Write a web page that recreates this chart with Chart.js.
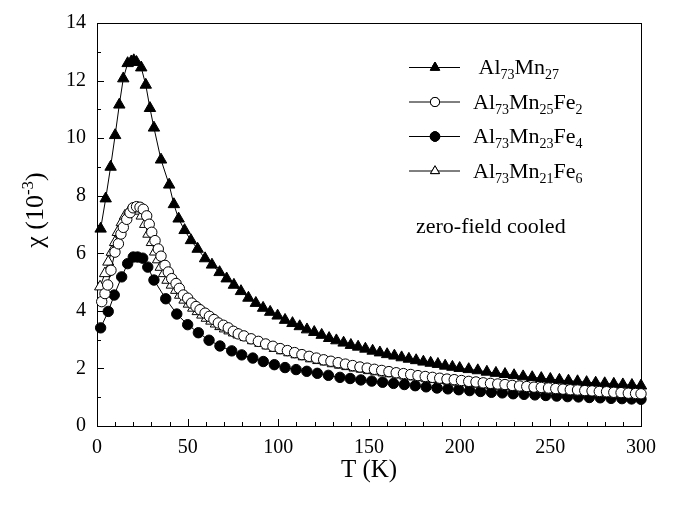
<!DOCTYPE html>
<html><head><meta charset="utf-8">
<script src="https://cdn.jsdelivr.net/npm/chart.js@4.4.1/dist/chart.umd.min.js"></script>
<style>html,body{margin:0;padding:0;background:#fff}#wrap{width:676px;height:505px}</style>
</head><body><div id="wrap"><canvas id="c" width="676" height="505"></canvas></div>
<script>
// ---------------- DATA ----------------
const seriesLabels = ['Al73Mn27', 'Al73Mn25Fe2', 'Al73Mn23Fe4', 'Al73Mn21Fe6'];
// rich legend text: [text, isSubscript]
const legendParts = [
  [[' Al',0],['73',1],['Mn',0],['27',1]],
  [['Al',0],['73',1],['Mn',0],['25',1],['Fe',0],['2',1]],
  [['Al',0],['73',1],['Mn',0],['23',1],['Fe',0],['4',1]],
  [['Al',0],['73',1],['Mn',0],['21',1],['Fe',0],['6',1]]
];
const xTickValues = [0, 50, 100, 150, 200, 250, 300];
const yTickValues = [0, 2, 4, 6, 8, 10, 12, 14];
const xTitle = 'T (K)';
const yTitleParts = [['χ (10',0],['-3',2],[')',0]];
const annotationText = 'zero-field cooled';

// Al73Mn27 (filled triangles)
const T_Mn27 = [2, 4.8, 7.5, 10, 12.3, 14.5, 16.9, 18.9, 20.3, 21.8, 24.4, 26.9, 29.2, 31.4, 35.3, 39.8, 42.4, 45, 48.3, 51.8, 55.5, 59.6, 63.4, 67.6, 71.5, 75.5, 79.4, 83.5, 87.6, 91.6, 95.5, 99.6, 103.7, 107.8, 111.8, 115.8, 119.8, 123.9, 128, 132, 136, 140, 144, 148, 152, 156, 160, 164, 168, 172, 176, 180, 184, 188, 192, 196, 200, 205, 210, 215, 220, 225, 230, 235, 240, 245, 250, 255, 260, 265, 270, 275, 280, 285, 290, 295, 300];
const chi_Mn27 = [6.85, 7.9, 9.0, 10.1, 11.16, 12.07, 12.6, 12.66, 12.7, 12.64, 12.45, 11.85, 11.04, 10.36, 9.25, 8.38, 7.7, 7.2, 6.8, 6.45, 6.15, 5.82, 5.6, 5.34, 5.12, 4.9, 4.68, 4.45, 4.27, 4.1, 3.96, 3.83, 3.68, 3.57, 3.46, 3.35, 3.26, 3.16, 3.05, 2.97, 2.89, 2.81, 2.75, 2.68, 2.61, 2.55, 2.49, 2.44, 2.38, 2.33, 2.28, 2.23, 2.19, 2.15, 2.09, 2.05, 2.01, 1.97, 1.93, 1.88, 1.84, 1.8, 1.76, 1.72, 1.69, 1.66, 1.63, 1.6, 1.57, 1.55, 1.52, 1.5, 1.48, 1.46, 1.44, 1.42, 1.4];

// Al73Mn25Fe2 (open circles)
const T_Fe2 = [2.6, 4.4, 5.9, 7.7, 9.9, 11.8, 13.2, 14.5, 16.4, 18.2, 19.9, 21.8, 23.7, 25.5, 27.4, 28.8, 30.2, 32, 33.8, 35.3, 37.5, 39.3, 41.2, 43.6, 45.4, 47.6, 50, 52.2, 54.6, 56.8, 59.6, 62, 64.5, 66.9, 69.7, 72.4, 75.2, 77.9, 81, 85, 89, 93, 97, 101, 105, 109, 113, 117, 121, 125, 129, 133, 137, 141, 145, 149, 153, 157, 161, 165, 169, 173, 177, 181, 185, 189, 193, 197, 201, 205, 209, 213, 217, 221, 225, 229, 233, 237, 241, 245, 249, 253, 257, 261, 265, 269, 273, 277, 281, 285, 289, 293, 297, 300];
const chi_Fe2 = [4.32, 4.6, 4.9, 5.41, 6.04, 6.33, 6.67, 6.9, 7.18, 7.41, 7.58, 7.62, 7.6, 7.53, 7.3, 7.01, 6.73, 6.44, 6.15, 5.9, 5.58, 5.35, 5.12, 4.95, 4.78, 4.55, 4.44, 4.27, 4.15, 4.04, 3.92, 3.81, 3.7, 3.58, 3.5, 3.41, 3.29, 3.2, 3.13, 3.03, 2.94, 2.85, 2.77, 2.69, 2.62, 2.55, 2.48, 2.42, 2.36, 2.3, 2.25, 2.2, 2.15, 2.1, 2.05, 2.01, 1.97, 1.93, 1.89, 1.85, 1.82, 1.79, 1.75, 1.72, 1.69, 1.66, 1.63, 1.61, 1.58, 1.55, 1.53, 1.5, 1.48, 1.46, 1.44, 1.41, 1.39, 1.37, 1.35, 1.34, 1.32, 1.3, 1.28, 1.26, 1.25, 1.23, 1.22, 1.2, 1.19, 1.17, 1.16, 1.14, 1.13, 1.12];

// Al73Mn23Fe4 (filled circles)
const T_Fe4 = [2, 6.2, 9.5, 13.6, 16.9, 20, 22.4, 25.2, 28, 31.4, 37.9, 44, 50, 55.9, 61.8, 67.8, 74.3, 79.8, 85.9, 91.7, 97.8, 103.7, 109.8, 115.7, 121.5, 127.6, 134, 139.6, 145.5, 151.5, 157.5, 163.5, 169.5, 175.5, 181.5, 187.5, 193.5, 199.5, 205.5, 211.5, 217.5, 223.5, 229.5, 235.5, 241.5, 247.5, 253.5, 259.5, 265.5, 271.5, 277.5, 283.5, 289.5, 294.8, 300];
const chi_Fe4 = [3.41, 3.98, 4.55, 5.18, 5.64, 5.87, 5.87, 5.83, 5.52, 5.07, 4.42, 3.89, 3.52, 3.24, 2.98, 2.78, 2.61, 2.47, 2.36, 2.24, 2.13, 2.03, 1.96, 1.9, 1.83, 1.76, 1.69, 1.65, 1.6, 1.56, 1.52, 1.48, 1.44, 1.4, 1.36, 1.32, 1.29, 1.26, 1.23, 1.2, 1.17, 1.15, 1.12, 1.1, 1.08, 1.06, 1.04, 1.02, 1.01, 0.99, 0.98, 0.96, 0.95, 0.94, 0.93];

// Al73Mn21Fe6 (open triangles)
const T_Fe6 = [1.7, 4.4, 6.2, 8.1, 9.9, 11.4, 13.6, 15.4, 17.8, 20, 22.2, 24.6, 26.5, 28.3, 30.2, 32, 33.6, 35.1, 36.9, 38.8, 41.2, 43.6, 45.8, 48.2, 50.6, 53, 55.5, 58, 60.5, 63, 65.5, 68, 70.5, 73, 75.5, 78, 82, 86, 90, 94, 98, 102, 106, 110, 114, 118, 122, 126, 130, 134, 138, 142, 146, 150, 154, 158, 162, 166, 170, 174, 178, 182, 186, 190, 194, 198, 202, 206, 210, 214, 218, 222, 226, 230, 234, 238, 242, 246, 250, 254, 258, 262, 266, 270, 274, 278, 282, 286, 290, 294, 298];
const chi_Fe6 = [4.84, 5.3, 5.7, 6.04, 6.38, 6.73, 7.07, 7.3, 7.47, 7.5, 7.47, 7.3, 7.01, 6.67, 6.38, 6.05, 5.78, 5.52, 5.3, 5.07, 4.9, 4.72, 4.55, 4.38, 4.24, 4.1, 3.98, 3.86, 3.75, 3.65, 3.55, 3.46, 3.38, 3.31, 3.24, 3.17, 3.08, 2.97, 2.88, 2.79, 2.7, 2.62, 2.55, 2.48, 2.41, 2.34, 2.28, 2.23, 2.17, 2.12, 2.07, 2.02, 1.98, 1.93, 1.89, 1.85, 1.82, 1.78, 1.74, 1.71, 1.68, 1.65, 1.62, 1.59, 1.56, 1.53, 1.51, 1.48, 1.46, 1.43, 1.41, 1.39, 1.37, 1.35, 1.33, 1.31, 1.29, 1.27, 1.25, 1.23, 1.22, 1.2, 1.18, 1.17, 1.15, 1.14, 1.12, 1.11, 1.1, 1.08, 1.07];

// ---------------- STYLE ----------------
const FONT = '"Liberation Serif", "Times New Roman", serif';
const toXY = (xs, ys) => xs.map((v, i) => ({x: v, y: ys[i]}));
const styles = [
  {pointStyle: 'triangle', radius: 6.6, fill: '#000', legendRadius: 5.4},
  {pointStyle: 'circle', radius: 5.2, fill: '#fff', legendRadius: 4.6},
  {pointStyle: 'circle', radius: 5.2, fill: '#000', legendRadius: 4.8},
  {pointStyle: 'triangle', radius: 6.4, fill: '#fff', legendRadius: 5.2}
];
const dataSets = [[T_Mn27, chi_Mn27], [T_Fe2, chi_Fe2], [T_Fe4, chi_Fe4], [T_Fe6, chi_Fe6]];
const drawOrder = [0, 2, 3, 1];

function drawRich(ctx, parts, x, y, main, small) {
  let cx = x;
  for (const [t, kind] of parts) {
    if (kind) {
      ctx.font = small + 'px ' + FONT;
      ctx.fillText(t, cx, y + (kind === 1 ? 5 : -10));
    } else {
      ctx.font = main + 'px ' + FONT;
      ctx.fillText(t, cx, y);
    }
    cx += ctx.measureText(t).width;
  }
  return cx - x;
}
function richWidth(ctx, parts, main, small) {
  let w = 0;
  for (const [t, kind] of parts) {
    ctx.font = (kind ? small : main) + 'px ' + FONT;
    w += ctx.measureText(t).width;
  }
  return w;
}

const decor = {
  id: 'decor',
  beforeDatasetsDraw(chart) {
    const {ctx, chartArea: a, scales: {x, y}} = chart;
    ctx.save();
    ctx.strokeStyle = '#000';
    ctx.lineWidth = 1;
    ctx.strokeRect(Math.round(a.left) + 0.5, Math.round(a.top) + 0.5,
                   Math.round(a.right - a.left), Math.round(a.bottom - a.top));
    ctx.beginPath();
    for (let v = x.min; v <= x.max; v += 10) {
      const px = Math.round(x.getPixelForValue(v)) + 0.5;
      const len = xTickValues.includes(v) ? 7 : 4;
      ctx.moveTo(px, a.bottom); ctx.lineTo(px, a.bottom - len);
    }
    for (let v = y.min; v <= y.max; v += 1) {
      const py = Math.round(y.getPixelForValue(v)) + 0.5;
      const len = yTickValues.includes(v) ? 7 : 4;
      ctx.moveTo(a.left, py); ctx.lineTo(a.left + len, py);
    }
    ctx.stroke();
    ctx.restore();
  },
  afterDraw(chart) {
    const {ctx, chartArea: a} = chart;
    ctx.save();
    ctx.fillStyle = '#000';
    ctx.textBaseline = 'alphabetic';
    ctx.textAlign = 'left';
    // legend
    const rowsY = [67, 101.5, 136, 170.5];
    for (let i = 0; i < 4; i++) {
      const ly = rowsY[i];
      ctx.strokeStyle = '#000'; ctx.lineWidth = 1;
      ctx.beginPath(); ctx.moveTo(409, ly + 0.5); ctx.lineTo(460, ly + 0.5); ctx.stroke();
      const s = styles[i];
      ctx.fillStyle = s.fill;
      Chart.helpers.drawPoint(ctx, {pointStyle: s.pointStyle, radius: s.legendRadius, borderWidth: 1, rotation: 0}, 435, ly + 0.5);
      ctx.fill(); ctx.stroke();
      ctx.fillStyle = '#000';
      drawRich(ctx, legendParts[i], 473, ly + 7, 22, 14);
    }
    // annotation
    ctx.font = '22px ' + FONT;
    ctx.fillText(annotationText, 416, 233);
    // x title
    ctx.textAlign = 'center';
    ctx.font = '25px ' + FONT;
    ctx.fillText(xTitle, (a.left + a.right) / 2, 477);
    // y title
    ctx.textAlign = 'left';
    ctx.translate(43, 210);
    ctx.rotate(-Math.PI / 2);
    const w = richWidth(ctx, yTitleParts, 26, 17);
    drawRich(ctx, yTitleParts, -w / 2, 0, 26, 17);
    ctx.restore();
  }
};

const datasets = drawOrder.map((k, order) => ({
  label: seriesLabels[k],
  data: toXY(dataSets[k][0], dataSets[k][1]),
  showLine: true,
  borderColor: '#000',
  borderWidth: 1,
  pointStyle: styles[k].pointStyle,
  pointRadius: styles[k].radius,
  pointBackgroundColor: styles[k].fill,
  pointBorderColor: '#000',
  pointBorderWidth: 1,
  clip: false,
  order: 4 - order
}));

new Chart(document.getElementById('c'), {
  type: 'scatter',
  data: {datasets},
  options: {
    responsive: false,
    devicePixelRatio: 1,
    animation: false,
    layout: {padding: {top: 18, right: 35, left: 0, bottom: 0}},
    plugins: {legend: {display: false}, tooltip: {enabled: false}},
    scales: {
      x: {
        type: 'linear', min: 0, max: 300,
        afterBuildTicks: s => { s.ticks = xTickValues.map(v => ({value: v})); },
        ticks: {color: '#000', font: {family: FONT, size: 20}, padding: 10, maxRotation: 0, autoSkip: false},
        grid: {display: false, drawTicks: false},
        border: {display: false},
        afterFit: s => { s.height = 79; }
      },
      y: {
        type: 'linear', min: 0, max: 14,
        afterBuildTicks: s => { s.ticks = yTickValues.map(v => ({value: v})); },
        ticks: {color: '#000', font: {family: FONT, size: 20}, padding: 11, autoSkip: false},
        grid: {display: false, drawTicks: false},
        border: {display: false},
        afterFit: s => { s.width = 97; }
      }
    }
  },
  plugins: [decor]
});
</script>
</body></html>
